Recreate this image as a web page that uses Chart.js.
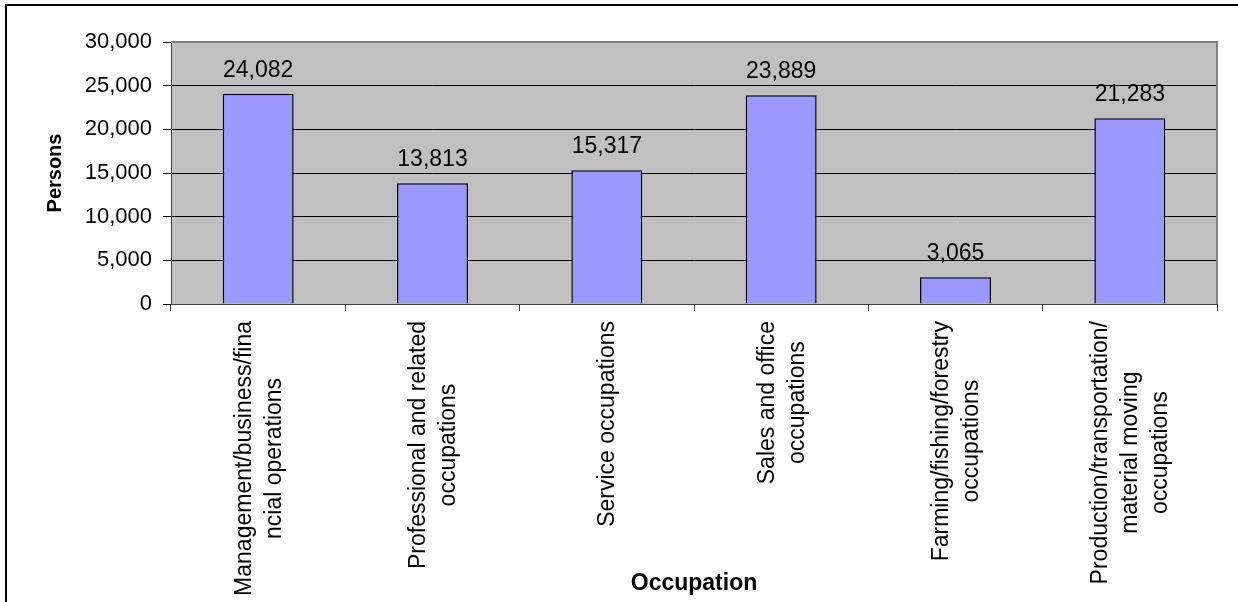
<!DOCTYPE html>
<html>
<head>
<meta charset="utf-8">
<title>Occupation</title>
<script src="https://cdn.jsdelivr.net/npm/chart.js@4.4.0/dist/chart.umd.min.js"></script>
<style>
  html, body { margin: 0; padding: 0; background: #fff; }
  canvas { display: block; }
</style>
</head>
<body>
<canvas id="chart" width="1238" height="602"></canvas>
<script>
// categories, one array per label (each entry is a line)
const occupations = [
    ["Management/business/fina", "ncial operations"],
    ["Professional and related", "occupations"],
    ["Service occupations"],
    ["Sales and office", "occupations"],
    ["Farming/fishing/forestry", "occupations"],
    ["Production/transportation/", "material moving", "occupations"]
]
const persons = [24082, 13813, 15317, 23889, 3065, 21283]
const yTicks = [0, 5000, 10000, 15000, 20000, 25000, 30000]

const FONT = "'Liberation Sans', Arial, sans-serif"
Chart.defaults.font.family = FONT
Chart.defaults.color = "#000"

const fmt = v => v.toLocaleString("en-US")

// outer frame, grey plot area, value labels and rotated category names
const decor = {
    id: "decor",
    beforeDraw(chart) {
        const {ctx, chartArea: a, width, height} = chart
        ctx.save()
        ctx.fillStyle = "#fff"
        ctx.fillRect(0, 0, width, height)
        ctx.fillStyle = "#000"
        ctx.fillRect(5, 4, 2, height - 4)
        ctx.fillRect(5, 4, width - 5, 2)
        ctx.fillStyle = "#c0c0c0"
        ctx.fillRect(a.left, a.top, a.right - a.left, a.bottom - a.top)
        ctx.restore()
    },
    afterDatasetsDraw(chart) {
        const {ctx, chartArea: a} = chart
        ctx.save()
        ctx.fillStyle = "#808080"
        ctx.fillRect(a.left, a.top - 1, a.right - a.left + 1, 2)
        ctx.fillRect(a.right - 1, a.top - 1, 2, a.bottom - a.top + 1)

        ctx.fillStyle = "#000"
        ctx.font = "23px " + FONT
        ctx.textAlign = "center"
        ctx.textBaseline = "alphabetic"
        chart.getDatasetMeta(0).data.forEach((bar, i) => {
            ctx.fillText(fmt(persons[i]), bar.x, bar.y - 17)
        })
        ctx.restore()
    },
    afterDraw(chart) {
        const {ctx} = chart
        const x = chart.scales.x
        const top = x.top + 17
        const step = 30
        ctx.save()
        ctx.fillStyle = "#000"
        ctx.font = "23px " + FONT
        ctx.textAlign = "center"
        ctx.textBaseline = "alphabetic"
        chart.data.labels.forEach((lines, i) => {
            const cx = x.getPixelForValue(i)
            const maxW = Math.max(...lines.map(l => ctx.measureText(l).width))
            const cy = top + maxW / 2
            lines.forEach((line, k) => {
                const bx = cx + (k - (lines.length - 1) / 2) * step + 7.5
                ctx.save()
                ctx.translate(bx, cy)
                ctx.rotate(-Math.PI / 2)
                ctx.fillText(line, 0, 0)
                ctx.restore()
            })
        })
        ctx.restore()
    }
}

new Chart("chart", {
    type: "bar",
    data: {
        labels: occupations,
        datasets: [{
            label: "Persons",
            data: persons,
            backgroundColor: "#9999ff",
            borderColor: "#000",
            borderWidth: 1.5,
            barPercentage: 0.407,
            categoryPercentage: 1
        }]
    },
    options: {
        responsive: false,
        devicePixelRatio: 1,
        animation: false,
        layout: { padding: { left: 0, top: 42, right: 21, bottom: 0 } },
        plugins: {
            legend: { display: false },
            tooltip: { enabled: false }
        },
        scales: {
            x: {
                afterFit: s => { s.height = 298 },
                grid: {
                    drawOnChartArea: false,
                    drawTicks: true,
                    tickLength: 7,
                    color: "#404040"
                },
                border: { display: true, color: "#404040", width: 1 },
                ticks: { display: false },
                title: {
                    display: true,
                    text: "Occupation",
                    font: { size: 23, weight: "bold" },
                    padding: { top: 0, bottom: 4.5 }
                }
            },
            y: {
                min: yTicks[0],
                max: yTicks[yTicks.length - 1],
                afterBuildTicks: s => { s.ticks = yTicks.map(v => ({ value: v })) },
                afterFit: s => { s.width = 171 },
                grid: {
                    color: c => c.tick && c.tick.value === yTicks[yTicks.length - 1] ? "#808080" : "#000",
                    tickColor: "#000",
                    tickLength: 8,
                    lineWidth: 1
                },
                border: { display: true, color: "#404040", width: 1 },
                ticks: {
                    padding: 11,
                    font: { size: 22 },
                    callback: v => fmt(v)
                },
                title: {
                    display: true,
                    text: "Persons",
                    font: { size: 20, weight: "bold" },
                    padding: { top: 43.8, bottom: 0 }
                }
            }
        }
    },
    plugins: [decor]
})
</script>
</body>
</html>
